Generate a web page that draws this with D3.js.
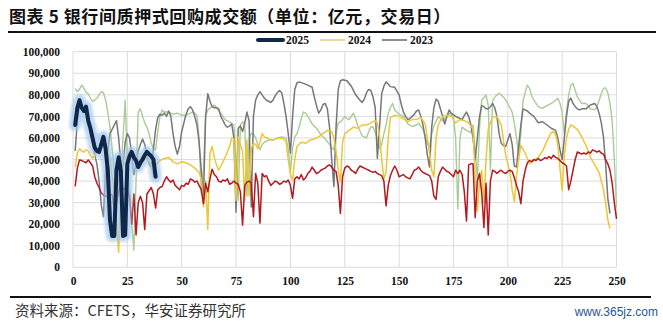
<!DOCTYPE html>
<html><head><meta charset="utf-8">
<script src="https://cdn.jsdelivr.net/npm/d3@7"></script>
<style>body{margin:0;background:#fff}svg{display:block}</style>
</head><body>
<svg id="c" width="663" height="324"></svg>
<script>
const titleText = "图表 5 银行间质押式回购成交额（单位：亿元，交易日）";
const sourceText = "资料来源：CFETS，华安证券研究所";
const watermark = "www.365jz.com";
const xTicks = [0,25,50,75,100,125,150,175,200,225,250];
const yTicks = [0,10000,20000,30000,40000,50000,60000,70000,80000,90000,100000];
const legendNames = ["2025","2024","2023"];

const s2025 = [[1,66000],[2,74000],[3,77500],[4,74000],[5,72500],[6,74500],[7,68000],[8,64500],[9,60000],[10,55500],[11,54000],[12,53500],[13,57000],[14,60500],[15,55000],[16,45000],[17,22000],[18,14500],[19,14500],[20,45000],[21,51000],[22,45000],[23,14500],[24,15000],[25,48000],[26,51500],[27,53500],[28,51000],[29,49500],[30,46500],[31,48500],[32,50000],[33,52000],[34,53500],[35,52500],[36,51500],[37,50000],[38,42000]];

const s2024 = [[1,46500],[2,53000],[3,55000],[4,54000],[5,53500],[6,54500],[7,54000],[8,52000],[9,50500],[10,52000],[11,53500],[12,54000],[13,55000],[14,56000],[15,55500],[16,54000],[17,50000],[18,42000],[19,35000],[20,20000],[21,7000],[22,35000],[23,49500],[24,50500],[25,51500],[26,54000],[27,53000],[28,52500],[29,51000],[30,49500],[31,50500],[32,51500],[33,51000],[34,50000],[35,49500],[36,47000],[37,42000],[38,47500],[40,49500],[42,50500],[44,51000],[46,49000],[48,48000],[50,49000],[52,48500],[54,47500],[56,46000],[58,44000],[59,41000],[60,28000],[61,40000],[62,17500],[63,53000],[64,56000],[65,51000],[66,47500],[67,45000],[68,47000],[70,51000],[72,56000],[73,60000],[74,59500],[75,31000],[76,60500],[77,57000],[78,54000],[79,31000],[80,59000],[81,33000],[82,55000],[83,57500],[84,57000],[85,55000],[86,58000],[87,62000],[88,60500],[90,59500],[92,59000],[94,59800],[96,60000],[98,58500],[99,50000],[100,43000],[101,40500],[102,50000],[103,56000],[105,58000],[107,57500],[109,59000],[111,59500],[113,60500],[115,62000],[117,63500],[119,63000],[120,60000],[121,54000],[122,45000],[123,39500],[124,58000],[125,62000],[127,63500],[129,65000],[131,64500],[133,66000],[135,66000],[137,67000],[139,68000],[140,67000],[141,61000],[142,50000],[143,41000],[144,44000],[145,60000],[146,69500],[148,70500],[150,70000],[152,69000],[154,67500],[156,68500],[158,68500],[160,69500],[162,66500],[163,60000],[164,53000],[165,45000],[166,42000],[167,60000],[168,66000],[170,70000],[172,70500],[174,70000],[176,67000],[178,68500],[180,68000],[182,67000],[184,64000],[185,42000],[186,26000],[187,40000],[188,45000],[189,30000],[190,50000],[191,64000],[192,67000],[193,69500],[195,70000],[197,66000],[198,59000],[199,52000],[200,48000],[201,44000],[202,36000],[203,30500],[204,42000],[205,50000],[206,56500],[208,53000],[210,48000],[212,49500],[214,51000],[216,54000],[218,58500],[220,62500],[221,63000],[222,61500],[223,57000],[224,46000],[225,35500],[226,52000],[227,60000],[228,64000],[229,66000],[230,65500],[232,64000],[234,60500],[236,56500],[238,51000],[240,47500],[242,44000],[243,40000],[244,36000],[245,30000],[246,22000],[247,18000]];

const s2023 = [[1,54000],[2,68000],[3,74500],[4,73000],[5,71500],[6,73000],[7,71000],[8,65000],[9,58000],[10,52000],[11,48000],[12,40000],[13,29000],[14,23500],[15,45000],[16,54000],[17,62000],[18,64000],[19,66000],[20,68000],[21,60000],[22,48000],[23,47000],[24,58000],[25,62000],[26,60000],[27,52000],[28,43000],[29,48000],[30,54000],[31,57000],[32,59500],[33,57000],[34,52000],[35,48000],[36,46500],[37,55000],[38,64000],[39,69500],[40,71000],[41,70500],[42,71500],[43,70000],[44,72500],[45,70000],[46,62000],[47,56000],[48,52500],[49,56000],[50,63000],[51,67000],[52,71000],[53,73500],[54,74500],[55,73000],[56,70000],[57,66000],[58,58000],[59,45000],[60,31000],[61,70000],[62,80500],[63,77000],[64,74500],[65,74000],[66,74000],[67,73500],[68,70000],[69,68000],[70,66000],[71,65000],[72,65500],[73,66500],[74,60000],[75,25500],[76,64500],[77,65500],[78,63000],[79,67000],[80,72000],[81,68000],[82,28000],[83,70000],[84,77500],[85,80000],[86,81500],[87,80000],[88,78500],[89,77500],[90,77000],[91,76500],[92,77500],[93,79500],[94,81000],[95,82000],[96,81000],[97,76000],[98,70000],[99,62000],[100,53000],[101,70000],[102,82500],[103,85500],[104,86000],[106,85300],[108,84500],[110,83500],[111,79000],[112,75000],[113,71500],[114,73000],[115,75500],[116,76000],[117,73500],[118,65000],[119,50000],[120,37500],[121,65000],[122,82500],[123,86500],[124,87000],[126,86500],[128,84000],[130,80000],[132,77500],[133,76500],[134,78000],[135,81000],[136,82500],[137,82000],[138,79000],[139,74000],[140,50500],[141,65000],[142,80500],[143,84000],[144,86000],[145,85000],[146,83800],[148,83500],[150,80000],[151,75500],[152,72000],[153,70000],[154,68500],[155,69000],[156,70000],[157,71000],[158,72500],[159,73000],[160,70000],[161,66000],[162,60000],[163,52000],[164,46500],[165,65000],[166,74000],[167,78000],[168,77000],[169,73500],[170,70000],[171,66500],[172,70000],[173,73000],[174,71500],[176,70000],[178,69000],[179,68500],[180,70500],[181,72000],[182,70000],[183,66000],[184,60000],[185,50000],[186,60000],[187,70000],[188,75000],[189,74500],[190,73500],[191,73500],[192,74500],[193,76000],[194,74000],[195,70000],[196,62000],[197,57500],[198,56500],[199,56000],[200,59000],[201,62000],[202,57000],[203,47000],[204,46500],[205,56000],[206,66000],[207,73500],[208,73000],[209,72500],[210,71500],[212,70000],[214,67000],[216,67500],[218,66000],[220,64500],[222,63500],[223,60000],[224,54500],[225,50000],[226,60000],[227,70000],[228,77000],[229,78500],[230,76000],[231,74500],[232,73500],[233,73000],[234,73500],[236,73500],[238,75300],[240,76000],[241,74500],[242,71500],[243,67000],[244,60500],[245,48000],[246,32000],[247,25000]];

const s2022 = [[1,83000],[2,81500],[3,82500],[4,84500],[5,83000],[6,81000],[7,80500],[8,78500],[9,77000],[10,77500],[11,78500],[12,80000],[13,81500],[14,81000],[15,77500],[16,72000],[17,65000],[18,55000],[19,45000],[20,33000],[21,40000],[22,45000],[23,60000],[24,77500],[25,50000],[26,35000],[27,20000],[28,8000],[29,40000],[30,72000],[31,73500],[32,70000],[33,67000],[34,65000],[35,62000],[36,57500],[37,55000],[38,54500],[39,63000],[40,70000],[41,73000],[42,72000],[44,72000],[46,71000],[48,71500],[50,70500],[52,70600],[54,71500],[55,72000],[56,71500],[57,70500],[58,60000],[59,34500],[60,45000],[61,70000],[62,73000],[64,74500],[65,75300],[66,74000],[68,71500],[70,68500],[72,67500],[74,66000],[75,50000],[76,31000],[77,66000],[78,67500],[79,66500],[80,33000],[81,60000],[82,62000],[83,62000],[84,60000],[85,57000],[86,54500],[87,57000],[88,58000],[90,59000],[92,59000],[94,60000],[96,60500],[98,60000],[99,55000],[100,44000],[101,55000],[102,60500],[103,62000],[104,65000],[105,69000],[106,72000],[107,71500],[108,70000],[110,66500],[112,64500],[114,61500],[116,59500],[118,57000],[119,55500],[120,54500],[121,62000],[122,67000],[123,67500],[124,68500],[125,70000],[126,69000],[127,68500],[129,71500],[130,69000],[131,65500],[133,61000],[135,60000],[136,63000],[137,65000],[138,65200],[139,62500],[140,60000],[141,55000],[142,57000],[143,62000],[144,66000],[145,71500],[146,74000],[147,76000],[148,73000],[150,71000],[152,70000],[154,66500],[156,65300],[158,66000],[159,66800],[161,64000],[162,61000],[163,57000],[164,56000],[165,62000],[166,65500],[168,70000],[170,68000],[172,70000],[173,71500],[175,70000],[176,60000],[177,27000],[178,60000],[179,65000],[181,63500],[183,62500],[184,66000],[185,55000],[186,40000],[187,65000],[188,77500],[190,80000],[191,75000],[192,45000],[193,77000],[194,79000],[196,80700],[198,79000],[200,76000],[202,72000],[203,67000],[204,60000],[205,52000],[206,62000],[207,77000],[208,81000],[209,84500],[210,83000],[211,79500],[212,77500],[214,74500],[216,73700],[218,75000],[220,76000],[222,77500],[223,78400],[224,76000],[225,72000],[226,62000],[227,72000],[228,80000],[229,84500],[230,85300],[231,82000],[232,79000],[234,76000],[236,76000],[238,73500],[240,73000],[241,74500],[242,77500],[243,80500],[244,83000],[245,83200],[246,81000],[247,76000],[248,68000],[249,50000],[250,28000]];

const s2021 = [[1,37500],[2,46000],[3,49800],[4,49500],[5,49000],[6,48500],[7,49800],[8,48500],[9,47000],[10,42000],[11,39000],[12,37000],[13,34500],[14,33500],[15,33000],[16,32500],[17,34000],[18,33500],[19,27000],[20,30000],[21,35000],[22,39000],[23,36500],[24,36000],[25,35500],[26,33000],[27,20000],[28,34000],[29,15000],[30,30000],[31,33000],[32,30000],[33,17500],[34,34000],[35,35500],[36,37000],[37,34000],[38,27500],[39,36000],[40,37000],[41,37500],[42,40000],[43,42000],[44,40500],[45,39500],[46,40500],[47,38000],[48,37000],[49,36000],[50,38000],[51,37500],[52,39000],[53,38500],[54,41000],[55,40500],[56,39500],[57,40000],[58,38000],[59,36000],[60,29500],[61,39000],[62,35000],[63,41000],[64,45500],[65,43000],[66,42000],[67,40000],[68,39500],[69,40500],[70,40000],[71,41000],[72,38500],[73,39000],[74,40000],[75,39000],[76,38500],[77,35000],[78,19500],[79,38000],[80,39500],[81,40000],[82,39000],[83,23500],[84,43500],[85,39000],[86,20500],[87,43500],[88,42000],[89,42500],[90,40000],[91,38000],[92,39000],[93,40000],[94,39500],[95,38500],[96,39000],[97,40000],[98,39500],[99,40500],[100,38000],[101,32000],[102,41000],[103,42000],[104,41000],[105,43000],[106,40500],[107,41500],[108,43500],[109,44500],[110,46500],[111,45000],[112,43500],[113,44000],[114,45000],[115,45500],[116,46000],[117,47000],[118,47500],[119,46500],[120,45000],[121,44500],[122,38000],[123,25000],[124,42000],[125,46000],[126,47000],[127,46500],[128,45000],[129,44500],[130,43500],[131,45500],[132,47000],[133,46500],[134,46000],[135,45500],[136,45000],[137,44500],[138,44000],[139,44500],[140,43500],[141,43000],[142,42500],[143,40000],[144,28500],[145,38000],[146,42500],[147,45000],[148,47000],[149,45000],[150,42000],[151,42500],[152,43000],[153,42000],[154,41500],[155,41000],[156,43000],[157,45000],[158,45500],[159,46500],[160,45000],[161,44000],[162,43500],[163,43000],[164,42500],[165,40000],[166,33000],[167,31500],[168,42000],[169,44500],[170,46500],[171,45500],[172,44500],[173,44000],[174,43000],[175,42000],[176,45000],[177,43500],[178,45000],[179,43000],[180,35000],[181,21500],[182,47500],[183,48000],[184,48000],[185,23000],[186,40000],[187,43500],[188,34500],[189,18500],[190,39000],[191,15000],[192,40000],[193,45000],[194,44500],[195,43500],[196,44500],[197,45000],[198,44000],[199,43500],[200,44500],[201,45000],[202,44500],[203,41500],[204,38000],[205,35000],[206,29500],[207,40000],[208,45000],[209,48500],[210,49500],[211,49000],[212,50000],[213,49500],[214,50500],[215,49500],[216,50000],[217,50800],[218,50500],[219,51300],[220,50500],[221,52000],[222,51000],[223,50500],[224,49500],[225,48500],[226,48000],[227,47000],[228,36000],[229,40000],[230,45000],[231,50000],[232,53500],[233,53000],[234,52500],[235,53000],[236,52500],[237,53500],[238,53000],[239,54500],[240,54000],[241,53500],[242,54000],[243,53000],[244,52500],[245,50000],[246,48000],[247,45000],[248,39000],[249,30000],[250,22500]];

const svg = d3.select("#c");
const serif = "'Liberation Serif','Times New Roman',serif";
const cjk = "'Noto Sans CJK SC','Noto Sans',sans-serif";

// title
svg.append("text").attr("x",9).attr("y",23).attr("font-family",cjk).attr("font-weight",700)
  .attr("font-size",17).attr("letter-spacing",0.6).attr("fill","#111").text(titleText);
svg.append("line").attr("x1",8).attr("x2",656).attr("y1",32).attr("y2",32).attr("stroke","#111").attr("stroke-width",2);

const x = d3.scaleLinear().domain([0,250]).range([73,616.5]);
const y = d3.scaleLinear().domain([0,100000]).range([267.3,51.7]);

// grid
const g = svg.append("g");
g.selectAll(".hg").data(yTicks).join("line").attr("x1",x(0)).attr("x2",x(250))
  .attr("y1",d=>y(d)).attr("y2",d=>y(d)).attr("stroke","#dcdcdc").attr("stroke-width",1);
g.selectAll(".vg").data(xTicks).join("line").attr("y1",y(0)).attr("y2",y(100000))
  .attr("x1",d=>x(d)).attr("x2",d=>x(d)).attr("stroke","#dcdcdc").attr("stroke-width",1);

// axes
const yAxis = d3.axisLeft(y).tickValues(yTicks).tickFormat(d3.format(",")).tickSize(0).tickPadding(13);
const ya = svg.append("g").attr("transform",`translate(${x(0)},0)`).call(yAxis);
ya.select(".domain").remove();
ya.selectAll("text").attr("font-family",serif).attr("font-weight",700).attr("font-size",11.5).attr("fill","#111");
const xAxis = d3.axisBottom(x).tickValues(xTicks).tickSize(0).tickPadding(10);
const xa = svg.append("g").attr("transform",`translate(0,${y(0)})`).call(xAxis);
xa.select(".domain").remove();
xa.selectAll("text").attr("font-family",serif).attr("font-weight",700).attr("font-size",11.5).attr("fill","#111");

const line = d3.line().x(d=>x(d[0])).y(d=>y(d[1]));

const defs = svg.append("defs");
defs.append("filter").attr("id","glow").attr("x","-20%").attr("y","-20%").attr("width","140%").attr("height","140%")
  .append("feGaussianBlur").attr("stdDeviation",1.8);

const series = [
  {data:s2022,color:"#a9cc96",w:1.4},
  {data:s2023,color:"#77777a",w:1.5},
  {data:s2024,color:"#ecc737",w:1.5},
  {data:s2021,color:"#b4191f",w:1.5}
];
series.forEach(s=>{
  svg.append("path").datum(s.data).attr("d",line).attr("fill","none")
    .attr("stroke",s.color).attr("stroke-width",s.w).attr("stroke-linejoin","round");
});
svg.append("path").datum(s2025).attr("d",line).attr("fill","none").attr("stroke","#9fc6ee")
  .attr("stroke-width",12).attr("stroke-linejoin","round").attr("stroke-linecap","round").attr("opacity",0.7).attr("filter","url(#glow)");
svg.append("path").datum(s2025).attr("d",line).attr("fill","none").attr("stroke","#0f2748")
  .attr("stroke-width",4).attr("stroke-linejoin","round").attr("stroke-linecap","round");

// legend
const legColors = ["#0f2748","#e6dca0","#8c8c8c"];
const legX = [258,320,382];
const legW = [4,2,2];
legendNames.forEach((n,i)=>{
  svg.append("line").attr("x1",legX[i]).attr("x2",legX[i]+25).attr("y1",40).attr("y2",40)
    .attr("stroke",legColors[i]).attr("stroke-width",legW[i]).attr("stroke-linecap",i==0?"round":"butt");
  svg.append("text").attr("x",legX[i]+28).attr("y",44).attr("font-family",serif).attr("font-weight",700)
    .attr("font-size",11.5).attr("fill","#111").text(n);
});

// footer
svg.append("line").attr("x1",10).attr("x2",651).attr("y1",297).attr("y2",297).attr("stroke","#111").attr("stroke-width",2);
svg.append("text").attr("x",15).attr("y",316).attr("font-family",cjk).attr("font-size",14.5).attr("fill","#333").text(sourceText);
svg.append("text").attr("x",658).attr("y",316).attr("text-anchor","end").attr("font-family","'Liberation Sans',sans-serif")
  .attr("font-size",12).attr("fill","#2a5597").text(watermark);
</script>
</body></html>
